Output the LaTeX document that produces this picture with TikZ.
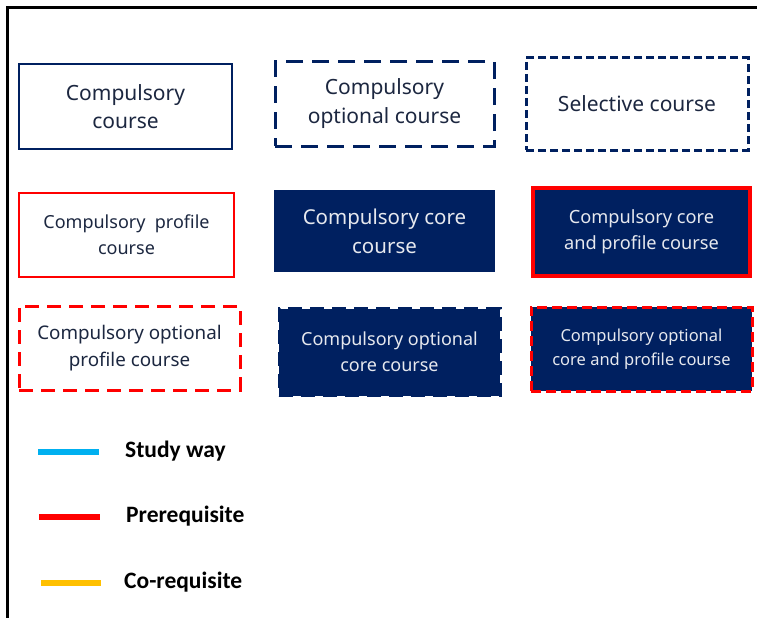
\documentclass[tikz,border=0pt]{standalone}
\usepackage{fontspec}
\setmainfont{Noto Sans}
\newfontfamily\legendfont{Carlito}
\definecolor{navy}{HTML}{002060}
\definecolor{txtdark}{HTML}{1C2740}
\definecolor{txtlight}{HTML}{E6E8EE}
\definecolor{studyblue}{HTML}{00B0F0}
\definecolor{prered}{HTML}{FF0000}
\definecolor{coorange}{HTML}{FFC000}
\tikzset{
  box/.style={rectangle, inner sep=0pt, align=center, text=txtdark},
  filledbox/.style={rectangle, inner sep=0pt, align=center, fill=navy, text=txtlight},
  legline/.style={line width=6pt},
  legtext/.style={anchor=west, inner sep=0pt, font=\legendfont\bfseries\fontsize{23.5}{26}\selectfont}
}
\begin{document}
\begin{tikzpicture}[x=1pt,y=-1pt]
\useasboundingbox (0,0) rectangle (757,618);
% frame
\coordinate (ftl) at (7,8);
\coordinate (ftr) at (757,8);
\coordinate (fbl) at (7,618);
\draw[line width=3pt] (ftr) -- (ftl) -- (fbl);
% row 1
\node[box, draw=navy, line width=2.5pt, minimum width=213pt, minimum height=85pt,
  font=\fontsize{21}{28}\selectfont] (b1) at (125.5,106.5) {Compulsory\\course};
\node[box, draw=navy, line width=3pt, dash pattern=on 17pt off 9pt, minimum width=219pt, minimum height=84pt,
  font=\fontsize{21}{29}\selectfont] (b2) at (384.5,104) {Compulsory\\optional course};
\node[box, draw=navy, line width=3pt, dash pattern=on 8pt off 4pt, minimum width=222pt, minimum height=92pt,
  font=\fontsize{21}{24}\selectfont] (b3) at (637,104) {Selective course};
% row 2
\node[box, draw=prered, line width=2.5pt, minimum width=215pt, minimum height=84pt,
  font=\fontsize{18}{26}\selectfont] (b4) at (126.5,235) {Compulsory\ \ profile\\course};
\node[filledbox, minimum width=221pt, minimum height=82pt,
  font=\fontsize{20.5}{29}\selectfont] (b5) at (384.5,231) {Compulsory core\\course};
\node[filledbox, draw=prered, line width=4pt, minimum width=217pt, minimum height=88pt,
  font=\fontsize{18.2}{26}\selectfont] (b6) at (641.5,232) {Compulsory core\\and profile course};
% row 3
\node[box, draw=prered, line width=3pt, dash pattern=on 14pt off 8pt, minimum width=221pt, minimum height=84pt,
  font=\fontsize{18.8}{27}\selectfont] (b7) at (129.5,348) {Compulsory optional\\profile course};
\node[filledbox, draw=navy, line width=3pt, dash pattern=on 14pt off 8pt, minimum width=221pt, minimum height=87pt,
  font=\fontsize{18}{26}\selectfont] (b8) at (389.5,352) {Compulsory optional\\core course};
\node[filledbox, draw=prered, line width=3pt, dash pattern=on 10pt off 5pt, minimum width=221pt, minimum height=84pt,
  font=\fontsize{16.5}{24}\selectfont] (b9) at (641.5,349) {Compulsory optional\\core and profile course};
% legend
\coordinate (l1a) at (38,452); \coordinate (l1b) at (99,452);
\coordinate (l2a) at (39,517); \coordinate (l2b) at (100,517);
\coordinate (l3a) at (41,583); \coordinate (l3b) at (101,583);
\draw[legline, studyblue] (l1a) -- (l1b);
\draw[legline, prered] (l2a) -- (l2b);
\draw[legline, coorange] (l3a) -- (l3b);
\node[legtext] (t1) at (125,451) {Study way};
\node[legtext] (t2) at (126,516) {Prerequisite};
\node[legtext] (t3) at (124,582) {Co-requisite};
\end{tikzpicture}
\end{document}
